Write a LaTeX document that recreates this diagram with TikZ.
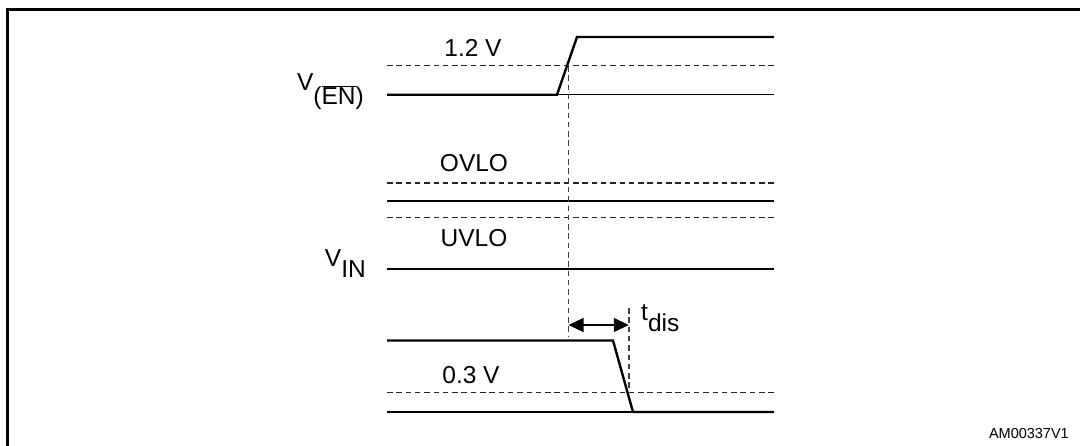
\documentclass[tikz,border=0pt]{standalone}
\usepackage{fontspec}
\setmainfont{Liberation Sans}
\usetikzlibrary{arrows.meta}
\begin{document}
\begin{tikzpicture}[x=1pt,y=-1pt,
  sig/.style={line width=2.4pt,line join=miter},
  thinref/.style={line width=1.2pt},
  lvl/.style={line width=1.1pt,dash pattern=on 5.5pt off 3.8pt,black!85},
  vdash/.style={line width=1.4pt,dash pattern=on 5.5pt off 3.8pt,black!75},
  lbl/.style={font=\fontsize{24.5}{27}\selectfont,inner sep=0pt},
  small/.style={font=\fontsize{14.5}{16}\selectfont,inner sep=0pt},
  dim/.style={line width=1.3pt,{Triangle[length=15pt,width=14pt]}-{Triangle[length=15pt,width=14pt]}}]
\useasboundingbox (0,0) rectangle (1080,445);
\clip (0,0) rectangle (1080,445);
% frame
\draw[line width=3pt] (7.5,460) -- (7.5,9.5) -- (1090,9.5);
% ---- V(EN) ----
\coordinate (e0) at (387,94.7);
\coordinate (e1) at (557,94.7);
\coordinate (e2) at (577,37);
\coordinate (e3) at (774,37);
\coordinate (e4) at (774,94.7);
\coordinate (d12a) at (387,65.7);
\coordinate (d12b) at (774,65.7);
\draw[lvl] (d12a) -- (d12b);
\draw[thinref] (e1) -- (e4);
\draw[sig] (e0) -- (e1) -- (e2) -- (e3);
\node[lbl] (t12) at (473,48) {1.2 V};
\node[lbl,anchor=east] (ven) at (364,92) {V\raisebox{-14pt}{($\overline{\hbox{EN}}$)}};
% ---- VIN ----
\coordinate (ova) at (387,183);
\coordinate (ovb) at (774,183);
\coordinate (via) at (387,201);
\coordinate (vib) at (774,201);
\coordinate (uva) at (387,217.5);
\coordinate (uvb) at (774,217.5);
\coordinate (ga) at (387,269);
\coordinate (gb) at (774,269);
\draw[lvl] (ova) -- (ovb);
\draw[lvl] (uva) -- (uvb);
\draw[sig] (via) -- (vib);
\draw[thinref] (ga) -- (gb);
\node[lbl] (tov) at (474,163) {OVLO};
\node[lbl] (tuv) at (474,238) {UVLO};
\node[lbl,anchor=east] (vin) at (366,264) {V\raisebox{-11pt}{IN}};
% ---- output ----
\coordinate (o0) at (387,340.5);
\coordinate (o1) at (613,340.5);
\coordinate (o2) at (633,412);
\coordinate (o3) at (774,412);
\coordinate (g2a) at (387,412);
\coordinate (d03a) at (387,392.7);
\coordinate (d03b) at (774,392.7);
\draw[lvl] (d03a) -- (d03b);
\draw[thinref] (g2a) -- (o2);
\draw[sig] (o0) -- (o1) -- (o2) -- (o3);
\node[lbl] (t03) at (471,375) {0.3 V};
% timing
\coordinate (va) at (568.5,66);
\coordinate (vb) at (568.5,337);
\coordinate (wa) at (628.8,308);
\coordinate (wb) at (628.8,392.7);
\draw[vdash] (va) -- (vb);
\draw[vdash] (wa) -- (wb);
\coordinate (aa) at (568.5,325);
\coordinate (ab) at (628.8,325);
\draw[dim] (aa) -- (ab);
\node[lbl,anchor=west] (tdis) at (641,318) {t\raisebox{-11pt}{dis}};
\node[small,anchor=east] (am) at (1069,434) {AM00337V1};
\end{tikzpicture}
\end{document}
